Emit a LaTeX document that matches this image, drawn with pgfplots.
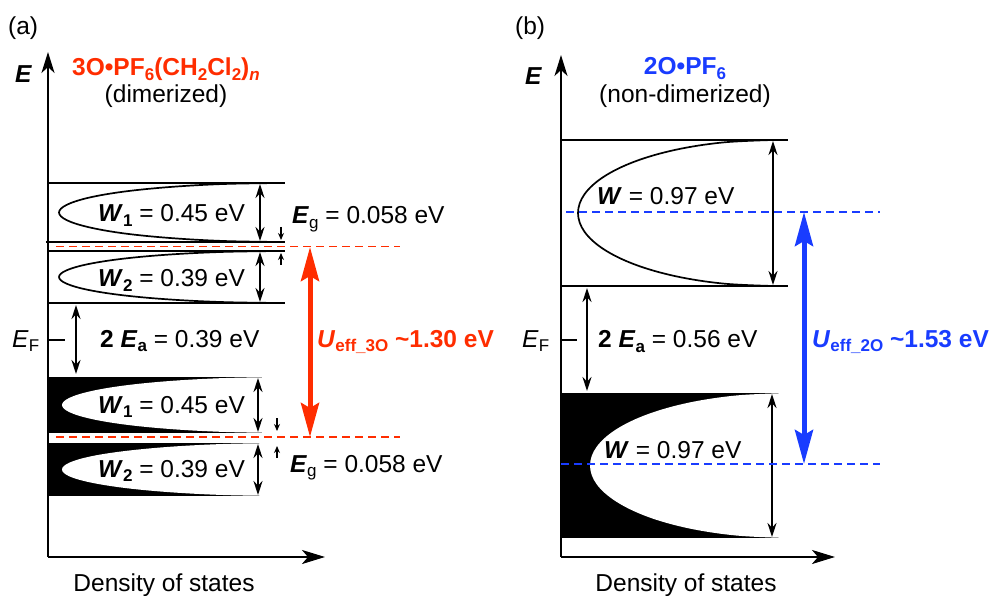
\documentclass[border=0pt]{standalone}
\usepackage{fontspec}
\setmainfont{Liberation Sans}
\usepackage{pgfplots}
\pgfplotsset{compat=1.18}
\usetikzlibrary{arrows.meta}

\definecolor{dimred}{RGB}{255,45,0}
\definecolor{monoblue}{RGB}{25,60,255}

% subscripts and bold-italic symbols
\newcommand{\sbs}[1]{\raisebox{-4.2pt}{\fontsize{17}{17}\selectfont #1}}
\newcommand{\bi}[1]{\textbf{\textit{#1}}}

\pgfplotsset{
  dosaxis/.style={
    x=1pt, y=1pt, anchor=south west, axis lines=left,
    enlargelimits=false, clip=false,
    xtick=\empty, ytick=\empty,
    axis line style={line width=2.2pt},
    x axis line style={-{Stealth[length=23pt,width=14pt,inset=6pt]}},
    y axis line style={-{Stealth[length=21pt,width=13pt,inset=6pt]}},
  },
  band/.style={black, line width=2pt},
  dos/.style={black, line width=1.7pt, smooth, tension=0.6},
  wid/.style={black, line width=1.6pt,
    {Stealth[length=14pt,width=9pt]}-{Stealth[length=14pt,width=9pt]}},
  tick arr/.style={black, line width=1.3pt, -{Stealth[length=7pt,width=6pt]}},
  big/.style={line width=5pt,
    {Stealth[length=34pt,width=18pt,inset=5pt]}-{Stealth[length=34pt,width=18pt,inset=5pt]}},
  lvl/.style={line width=1.4pt, dash pattern=on 8pt off 5pt},
}

\begin{document}
\begin{tikzpicture}[x=1pt, y=1pt,
  every node/.style={font=\fontsize{24.5}{28}\selectfont, inner sep=0pt}]
\useasboundingbox (0,0) rectangle (996,595);

% ---------------- (a) dimerized ----------------
\begin{axis}[dosaxis, at={(48pt,38pt)}, xmin=48, xmax=325, ymin=38, ymax=543]
  % upper W1 band (empty)
  \addplot[band] coordinates {(48,412) (285,412)};
  \addplot[band] coordinates {(46,353) (285,353)};
  \addplot[dos] coordinates {(281,412) (223.5,411.0) (170,408.0) (124,403.4) (88.7,397.3) (66.6,390.1) (59,382.5) (66.6,374.9) (88.7,367.8) (124,361.6) (170,357.0) (223.5,354.0) (281,353)};
  % upper W2 band (empty)
  \addplot[band] coordinates {(48,344) (285,344)};
  \addplot[band] coordinates {(48,292) (285,292)};
  \addplot[dos] coordinates {(281,344) (223.5,343.1) (170,340.5) (124,336.4) (88.7,331) (66.6,324.7) (59,318) (66.6,311.3) (88.7,305) (124,299.6) (170,295.5) (223.5,292.9) (281,292)};
  % lower W1 band (filled)
  \addplot[fill=black, draw=none] coordinates {(48,162) (283,162) (283,218) (48,218)};
  \addplot[fill=white, draw=none, smooth, tension=0.6] coordinates {(283,218) (225.8,217.0) (172.5,214.2) (126.7,209.8) (91.6,204) (69.5,197.2) (62,190) (69.5,182.8) (91.6,176) (126.7,170.2) (172.5,165.8) (225.8,163.0) (283,162)};
  % lower W2 band (filled)
  \addplot[fill=black, draw=none] coordinates {(48,99) (283,99) (283,152) (48,152)};
  \addplot[fill=white, draw=none, smooth, tension=0.6] coordinates {(283,152) (225.8,151.1) (172.5,148.4) (126.7,144.2) (91.6,138.8) (69.5,132.4) (62,125.5) (69.5,118.6) (91.6,112.3) (126.7,106.8) (172.5,102.6) (225.8,99.9) (283,99)};

  % band widths
  \addplot[wid] coordinates {(260,411) (260,354)};
  \addplot[wid] coordinates {(260,343) (260,293)};
  \addplot[wid] coordinates {(258,217) (258,163)};
  \addplot[wid] coordinates {(258,151) (258,100)};
  % gap markers
  \addplot[tick arr] coordinates {(281,368) (281,355)};
  \addplot[tick arr] coordinates {(281,330) (281,342)};
  \addplot[tick arr] coordinates {(277,177) (277,164)};
  \addplot[tick arr] coordinates {(277,137) (277,149)};
  % activation gap and Fermi level
  \addplot[wid] coordinates {(76,290) (76,221)};
  \addplot[black, line width=1.6pt] coordinates {(48,255) (65,255)};
  % band centres and effective U
  \addplot[lvl, dimred] coordinates {(56,348.5) (400,348.5)};
  \addplot[lvl, dimred] coordinates {(56,158) (400,158)};
  \addplot[big, dimred] coordinates {(310,348) (310,158)};

  \node[anchor=base west] at (axis cs:8,560) {(a)};
  \node[anchor=base west] at (axis cs:15,512) {\bi{E}};
  \node[anchor=base, text=dimred] at (axis cs:166,519)
    {\textbf{3O•PF\sbs{6}(CH\sbs{2}Cl\sbs{2})\sbs{\textit{n}}}};
  \node[anchor=base] at (axis cs:166,492) {(dimerized)};
  \node[anchor=base west] at (axis cs:98,373) {\bi{W}\sbs{\textbf{1}} = 0.45 eV};
  \node[anchor=base west] at (axis cs:292,371) {\bi{E}\sbs{g} = 0.058 eV};
  \node[anchor=base west] at (axis cs:98,308) {\bi{W}\sbs{\textbf{2}} = 0.39 eV};
  \node[anchor=base west] at (axis cs:12,248) {\textit{E}\sbs{F}};
  \node[anchor=base west] at (axis cs:100,248) {\textbf{2 \textit{E}\sbs{a}} = 0.39 eV};
  \node[anchor=base west, text=dimred] at (axis cs:317,248)
    {\textbf{\textit{U}\sbs{eff\_3O} \textasciitilde1.30 eV}};
  \node[anchor=base west] at (axis cs:98,182) {\bi{W}\sbs{\textbf{1}} = 0.45 eV};
  \node[anchor=base west] at (axis cs:98,118) {\bi{W}\sbs{\textbf{2}} = 0.39 eV};
  \node[anchor=base west] at (axis cs:290,123) {\bi{E}\sbs{g} = 0.058 eV};
  \node[anchor=base] at (axis cs:164,4) {Density of states};
\end{axis}

% ---------------- (b) non-dimerized ----------------
\begin{axis}[dosaxis, at={(561pt,38pt)}, xmin=561, xmax=835, ymin=38, ymax=540]
  % upper band (empty)
  \addplot[band] coordinates {(561,455) (788,455)};
  \addplot[band] coordinates {(561,309) (788,309)};
  \addplot[dos] coordinates {(773,455) (722.5,452.5) (675.5,445.2) (635.1,433.6) (604.1,418.5) (584.6,400.9) (578,382) (584.6,363.1) (604.1,345.5) (635.1,330.4) (675.5,318.8) (722.5,311.5) (773,309)};
  % lower band (filled)
  \addplot[fill=black, draw=none] coordinates {(561,57) (787,57) (787,202) (561,202)};
  \addplot[fill=white, draw=none, smooth, tension=0.6] coordinates {(787,202) (736,199.5) (688.5,192.3) (647.7,180.8) (616.4,165.8) (596.7,148.3) (590,129.5) (596.7,110.7) (616.4,93.3) (647.7,78.2) (688.5,66.7) (736,59.5) (787,57)};

  \addplot[wid] coordinates {(773,454) (773,310)};
  \addplot[wid] coordinates {(772,201) (772,58)};
  \addplot[wid] coordinates {(587,307) (587,204)};
  \addplot[black, line width=1.6pt] coordinates {(561,255) (577,255)};

  \addplot[lvl, monoblue] coordinates {(566,383) (880,383)};
  \addplot[lvl, monoblue] coordinates {(561,131) (880,131)};
  \addplot[big, monoblue] coordinates {(804,383) (804,131)};

  \node[anchor=base west] at (axis cs:515,560) {(b)};
  \node[anchor=base west] at (axis cs:525,510) {\bi{E}};
  \node[anchor=base, text=monoblue] at (axis cs:685,520) {\textbf{2O•PF\sbs{6}}};
  \node[anchor=base] at (axis cs:685,492) {(non-dimerized)};
  \node[anchor=base west] at (axis cs:597,390) {\bi{W} = 0.97 eV};
  \node[anchor=base west] at (axis cs:522,248) {\textit{E}\sbs{F}};
  \node[anchor=base west] at (axis cs:598,247) {\textbf{2 \textit{E}\sbs{a}} = 0.56 eV};
  \node[anchor=base west] at (axis cs:604,137) {\bi{W} = 0.97 eV};
  \node[anchor=base west, text=monoblue] at (axis cs:812,248)
    {\textbf{\textit{U}\sbs{eff\_2O} \textasciitilde1.53 eV}};
  \node[anchor=base] at (axis cs:686,4) {Density of states};
\end{axis}
\end{tikzpicture}
\end{document}
